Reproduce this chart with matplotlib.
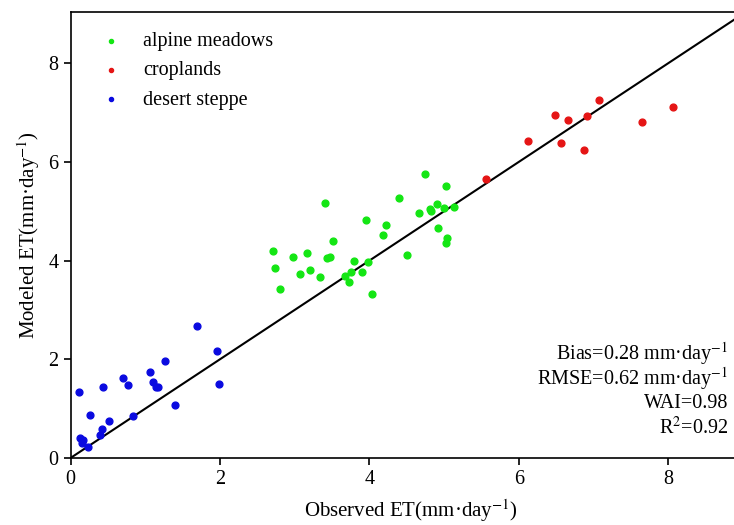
import matplotlib
matplotlib.use("Agg")
import matplotlib.pyplot as plt

plt.rcParams["font.family"] = ["Liberation Serif", "DejaVu Serif"]
plt.rcParams["mathtext.fontset"] = "stix"

# desert steppe
desert_obs = [0.12, 0.26, 0.13, 0.16, 0.23, 0.40, 0.42, 0.44, 0.52, 0.70, 0.77, 0.84,
              1.07, 1.10, 1.14, 1.17, 1.26, 1.40, 1.69, 1.96, 1.99, 0.17]
desert_mod = [1.33, 0.88, 0.40, 0.31, 0.23, 0.46, 0.58, 1.44, 0.74, 1.62, 1.47, 0.85,
              1.74, 1.54, 1.43, 1.43, 1.97, 1.08, 2.67, 2.16, 1.49, 0.36]

# alpine meadows
alpine_obs = [2.71, 2.74, 2.80, 2.98, 3.07, 3.16, 3.20, 3.34, 3.41, 3.44, 3.47, 3.52,
              3.67, 3.73, 3.76, 3.80, 3.90, 3.96, 3.98, 4.04, 4.18, 4.22, 4.40, 4.51,
              4.66, 4.75, 4.81, 4.83, 4.91, 4.92, 5.00, 5.03, 5.04, 5.03, 5.14]
alpine_mod = [4.19, 3.85, 3.42, 4.07, 3.72, 4.15, 3.82, 3.66, 5.16, 4.05, 4.08, 4.40,
              3.68, 3.57, 3.78, 4.00, 3.76, 4.83, 3.97, 3.33, 4.52, 4.73, 5.28, 4.11,
              4.96, 5.76, 5.04, 5.00, 5.15, 4.66, 5.06, 5.51, 4.46, 4.35, 5.08]

# croplands
crop_obs = [5.56, 6.13, 6.49, 6.57, 6.66, 6.87, 6.91, 7.08, 7.65, 8.07]
crop_mod = [5.65, 6.42, 6.95, 6.38, 6.85, 6.24, 6.94, 7.25, 6.81, 7.11]

stats = ["Bias=0.28 mm\u00b7day$^{-1}$",
         "RMSE=0.62 mm\u00b7day$^{-1}$",
         "WAI=0.98",
         "R$^{2}$=0.92"]

fig = plt.figure(figsize=(7.34, 5.25), dpi=100)
# the original figure is cropped on the right, so the axes run past the edge
ax = fig.add_axes([70.5 / 734, 67 / 525, 680.5 / 734, 446 / 525])

ax.scatter(alpine_obs, alpine_mod, s=24, color="#14e614", label="alpine meadows", zorder=3)
ax.scatter(crop_obs, crop_mod, s=24, color="#e51515", label="croplands", zorder=3)
ax.scatter(desert_obs, desert_mod, s=24, color="#0a0ae0", label="desert steppe", zorder=3)

ax.plot([0, 9.2], [0, 9.2], color="black", lw=1.5, zorder=2)

ax.set_xlim(0, 9.11)
ax.set_ylim(0, 9.04)
ax.set_xticks([0, 2, 4, 6, 8])
ax.set_yticks([0, 2, 4, 6, 8])
ax.tick_params(labelsize=14.5, direction="out", length=5, width=1.2)
for sp in ax.spines.values():
    sp.set_linewidth(1.2)

ax.set_xlabel("Observed ET(mm\u00b7day$^{-1}$)", fontsize=15, labelpad=6)
ax.set_ylabel("Modeled ET(mm\u00b7day$^{-1}$)", fontsize=15, labelpad=5)

ax.legend(loc="upper left", frameon=False, fontsize=14.5, markerscale=0.6,
          handletextpad=0.6, borderaxespad=0.6, labelspacing=0.5)

ys = [0.235, 0.179, 0.123, 0.067]
for t, yy in zip(stats, ys):
    ax.text(0.966, yy, t, transform=ax.transAxes, ha="right", va="center", fontsize=14.5)

fig.savefig("out.png", dpi=100)
